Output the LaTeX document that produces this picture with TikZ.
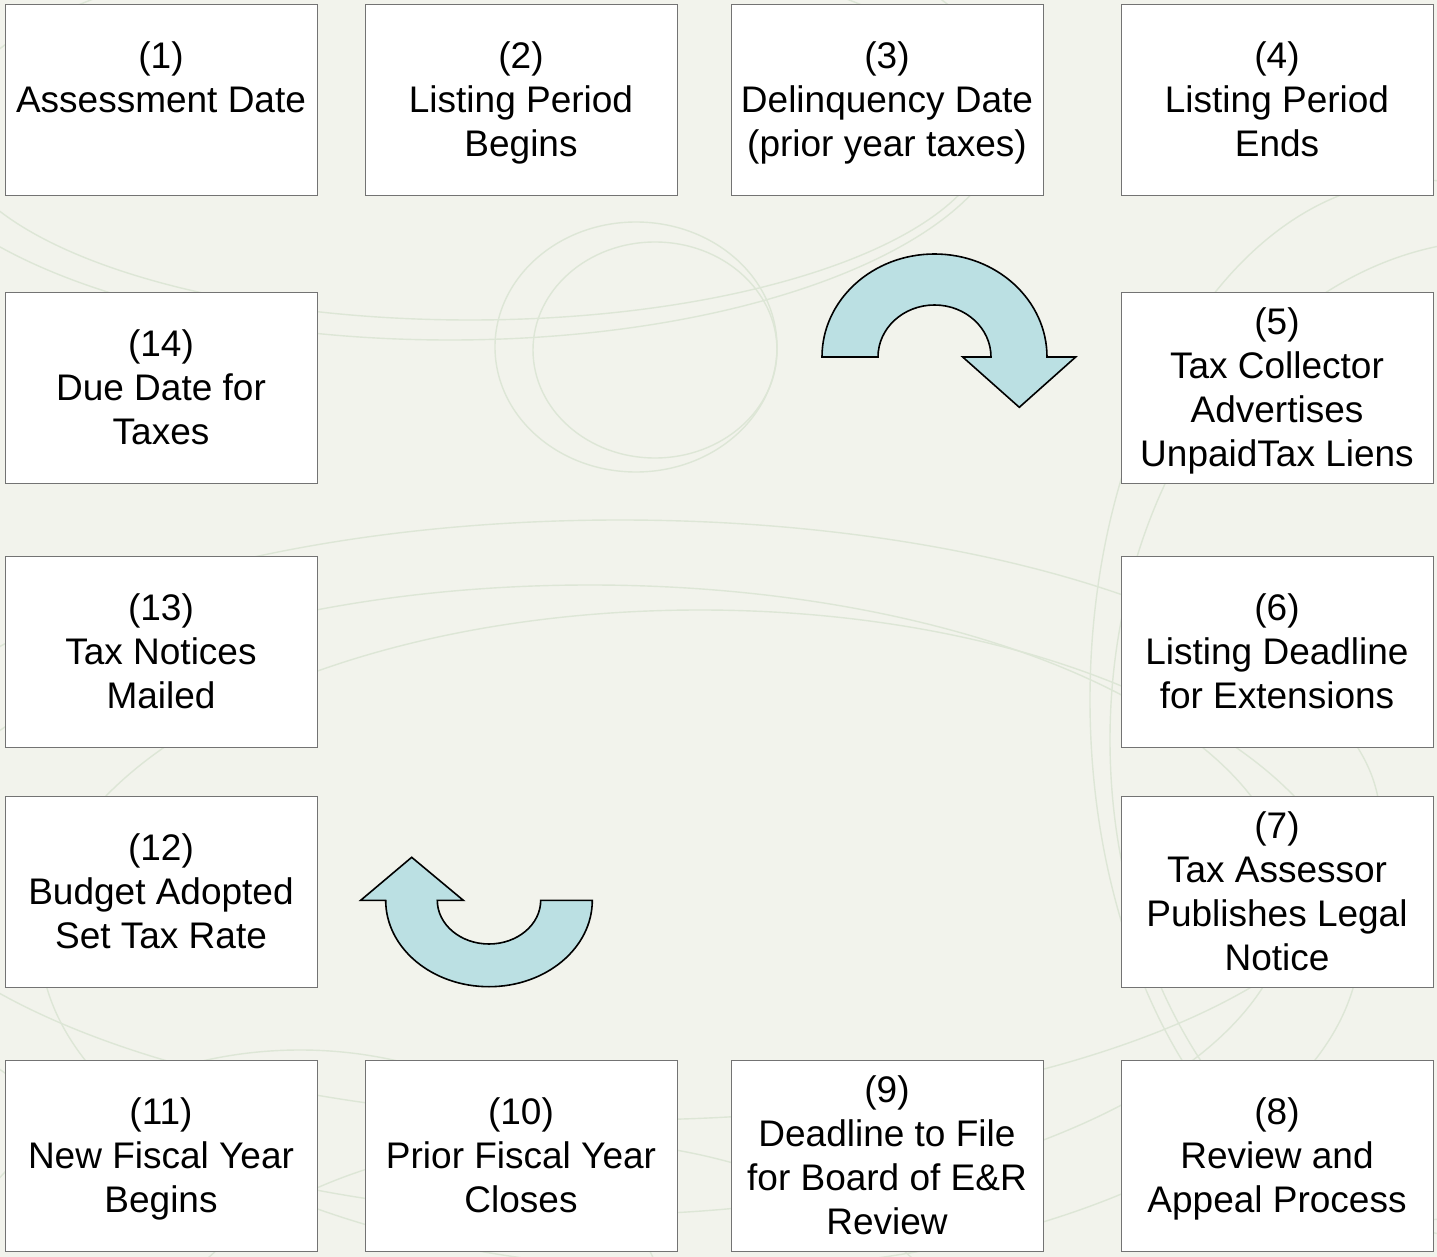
\documentclass[tikz,border=0pt]{standalone}
\usepackage{fontspec}
\setmainfont{Liberation Sans}
\usepackage{tikz}
\usetikzlibrary{positioning}
\definecolor{bggreen}{HTML}{F2F3EC}
\definecolor{swirl}{HTML}{DDE6D6}
\definecolor{arrowblue}{HTML}{BBE0E3}
\tikzset{
	box/.style={draw=black!55,fill=white,rectangle,align=center,minimum width=156pt,minimum height=95.5pt,inner sep=0pt,font=\fontsize{18.5}{22}\selectfont,text depth=0.6pt},
	turn/.style={draw=black,fill=arrowblue,line width=0.8pt,line join=miter},
	swirlline/.style={draw=swirl,line width=0.7pt}
}
\begin{document}
\begin{tikzpicture}[x=0.5pt,y=0.5pt]
            \useasboundingbox (0,0) rectangle (1437,-1257);
            \fill[bggreen] (0,0) rectangle (1437,-1257);
            \begin{scope}
            \clip (0,0) rectangle (1437,-1257);
            \draw[swirlline] (636,-347) ellipse [x radius=141, y radius=125];
            \draw[swirlline] (655,-350) ellipse [x radius=122, y radius=108];
            \draw[swirlline] (470,-130) ellipse [x radius=520, y radius=190];
            \draw[swirlline] (450,-110) ellipse [x radius=560, y radius=230];
            \draw[swirlline] (620,-820) ellipse [x radius=760, y radius=300];
            \draw[swirlline] (590,-900) ellipse [x radius=700, y radius=315];
            \draw[swirlline] (700,-940) ellipse [x radius=660, y radius=330];
            \draw[swirlline] (1420,-700) ellipse [x radius=330, y radius=520];
            \draw[swirlline] (1500,-740) ellipse [x radius=390, y radius=500];
            \draw[swirlline] (560,-1400) ellipse [x radius=420, y radius=260];
            \draw[swirlline] (300,-1380) ellipse [x radius=380, y radius=330];
            \end{scope}
            \node[box] (assess) at (161,-99.5) {(1)\\Assessment Date\\\mbox{}};
            \node[box] (listbeg) at (521,-99.5) {(2)\\Listing Period\\Begins};
            \node[box] (delinq) at (887,-99.5) {(3)\\Delinquency Date\\(prior year taxes)};
            \node[box] (listend) at (1277,-99.5) {(4)\\Listing Period\\Ends};
            \node[box] (advert) at (1277,-387.5) {(5)\\Tax Collector\\Advertises\\UnpaidTax Liens};
            \node[box] (extdl) at (1277,-651.5) {(6)\\Listing Deadline\\for Extensions};
            \node[box] (legal) at (1277,-891.5) {(7)\\Tax Assessor\\Publishes Legal\\Notice};
            \node[box] (appeal) at (1277,-1155.5) {(8)\\Review and\\Appeal Process};
            \node[box] (erfile) at (887,-1155.5) {(9)\\Deadline to File\\for Board of E\&R\\Review};
            \node[box] (fyclose) at (521,-1155.5) {(10)\\Prior Fiscal Year\\Closes};
            \node[box] (fybegin) at (161,-1155.5) {(11)\\New Fiscal Year\\Begins};
            \node[box] (budget) at (161,-891.5) {(12)\\Budget Adopted\\Set Tax Rate};
            \node[box] (notices) at (161,-651.5) {(13)\\Tax Notices\\Mailed};
            \node[box] (duedate) at (161,-387.5) {(14)\\Due Date for\\Taxes};
            \draw[turn] (822,-357) arc[start angle=180,end angle=0,x radius=112.5,y radius=103]
                -- (1075.7,-357) -- (1019.3,-407.3) -- (962.7,-357) -- (991,-357)
                arc[start angle=0,end angle=180,x radius=56.5,y radius=52] -- cycle;
            \draw[turn] (592.3,-900.3) arc[start angle=0,end angle=-180,x radius=103.3,y radius=86.4]
                -- (360.7,-900.3) -- (411.7,-857.3) -- (463.3,-900.3) -- (437.3,-900.3)
                arc[start angle=180,end angle=360,x radius=51.7,y radius=43.7] -- cycle;
        \end{tikzpicture}
\end{document}
